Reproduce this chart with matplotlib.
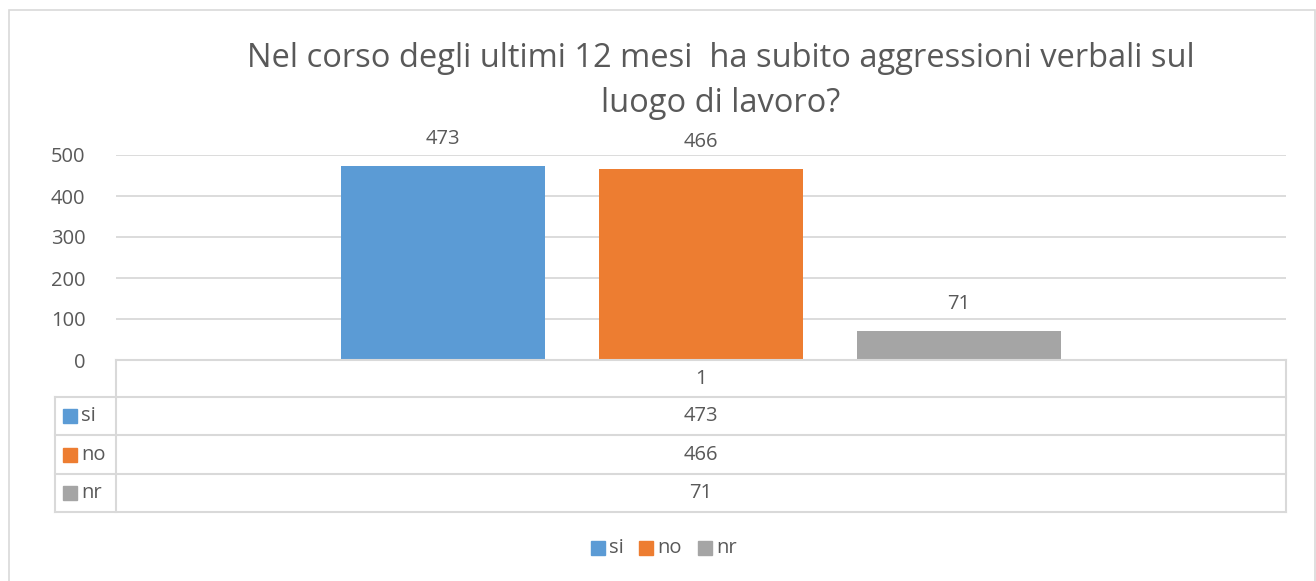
import matplotlib.pyplot as plt
from matplotlib.lines import Line2D
from matplotlib.patches import Rectangle

plt.rcParams['font.family'] = ['Open Sans', 'DejaVu Sans']

# dati
titolo = "Nel corso degli ultimi 12 mesi  ha subito aggressioni verbali sul\nluogo di lavoro?"
serie = ['si', 'no', 'nr']
valori = [473, 466, 71]
colori = ['#5b9bd5', '#ed7d31', '#a5a5a5']
categoria = '1'
yticks = [0, 100, 200, 300, 400, 500]

W, H = 1316, 581
fig = plt.figure(figsize=(W / 100, H / 100), dpi=100)


def fx(px):
    return px / W


def fy(py):
    return 1 - py / H


testo = '#595959'
linea = '#d9d9d9'
fs = 14.5

# cornice esterna
fig.patches.append(Rectangle((fx(9), fy(600)), fx(1315) - fx(9), fy(10) - fy(600),
                             transform=fig.transFigure, fill=False, edgecolor=linea, lw=1.2))

# area del grafico
ax = fig.add_axes([fx(116), fy(360), fx(1286) - fx(116), fy(155) - fy(360)])
ax.set_xlim(-0.5, 0.5)
ax.set_ylim(0, 500)
larghezza = 204 / 1170
passo = 258 / 1170
for i, (s, v, c) in enumerate(zip(serie, valori, colori)):
    x = (i - 1) * passo
    ax.bar(x, v, width=larghezza, color=c)
    ax.annotate(str(v), (x, v), xytext=(0, 12), textcoords='offset points',
                ha='center', va='bottom', fontsize=fs, color=testo)

ax.set_yticks(yticks)
ax.set_yticklabels([str(t) for t in yticks], fontsize=fs, color=testo)
ax.tick_params(axis='y', length=0, pad=22)
ax.set_xticks([])
ax.yaxis.grid(True, color=linea, lw=1.3)
ax.set_axisbelow(True)
for sp in ax.spines.values():
    sp.set_visible(False)

fig.text(fx(721), fy(81), titolo, ha='center', va='center', fontsize=23.5,
         color=testo, linespacing=1.45)

# tabella dati
def hline(y, x0, x1):
    fig.lines.append(Line2D([fx(x0), fx(x1)], [fy(y), fy(y)], transform=fig.transFigure,
                            color=linea, lw=1.5))


def vline(x, y0, y1):
    fig.lines.append(Line2D([fx(x), fx(x)], [fy(y0), fy(y1)], transform=fig.transFigure,
                            color=linea, lw=1.5))


hline(360, 116, 1286)
righe = [397, 435, 474, 512]
for y in righe:
    hline(y, 55, 1286)
vline(116, 360, 512)
vline(1286, 360, 512)
vline(55, 397, 512)

fig.text(fx(701), fy(379), categoria, ha='center', va='center', fontsize=fs, color=testo)
for i, (s, v, c) in enumerate(zip(serie, valori, colori)):
    yc = (righe[i] + righe[i + 1]) / 2
    fig.patches.append(Rectangle((fx(63), fy(yc + 7)), fx(14), fy(0) - fy(14),
                                 transform=fig.transFigure, color=c))
    fig.text(fx(81), fy(yc), s, ha='left', va='center', fontsize=fs, color=testo)
    fig.text(fx(701), fy(yc), str(v), ha='center', va='center', fontsize=fs, color=testo)

# legenda in basso
leg_x = [591, 639, 698]
for s, c, x in zip(serie, colori, leg_x):
    fig.patches.append(Rectangle((fx(x), fy(555)), fx(14), fy(0) - fy(14),
                                 transform=fig.transFigure, color=c))
    fig.text(fx(x + 18), fy(548), s, ha='left', va='center', fontsize=fs, color=testo)

fig.savefig('out.png', dpi=100)
